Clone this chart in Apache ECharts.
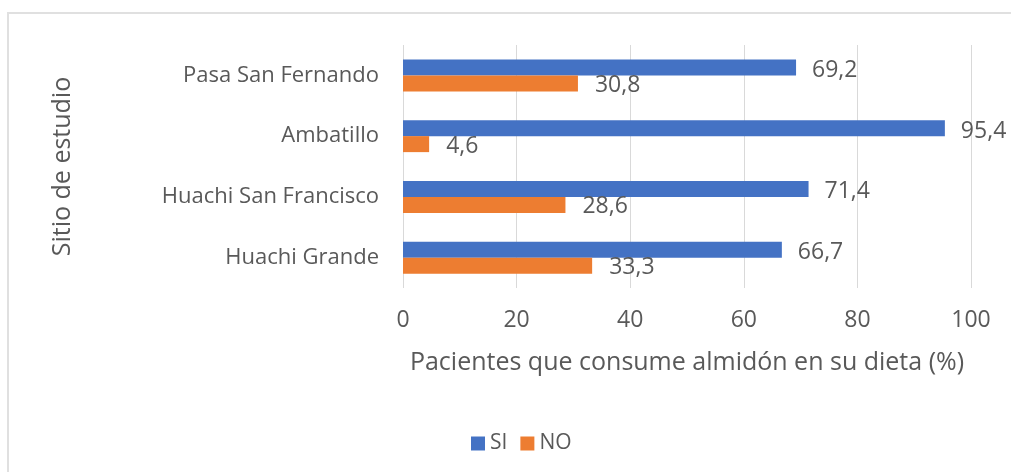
<!DOCTYPE html>
<html>
<head>
<meta charset="utf-8">
<script src="https://cdn.jsdelivr.net/npm/echarts@6/dist/echarts.min.js"></script>
<style>
  html, body { margin: 0; padding: 0; background: #fff; }
  #chart { width: 1011px; height: 472px; }
</style>
</head>
<body>
<div id="chart"></div>
<script>
const categories = ["Pasa San Fernando", "Ambatillo", "Huachi San Francisco", "Huachi Grande"];
const siValues = [69.2, 95.4, 71.4, 66.7];
const noValues = [30.8, 4.6, 28.6, 33.3];
const xTicks = [0, 20, 40, 60, 80, 100];

const textColor = "#595959";
const fontFamily = "'Open Sans', sans-serif";

const chart = echarts.init(document.getElementById("chart"));

const labelFmt = (p) => p.value.toFixed(1).replace(".", ",");

const option = {
  animation: false,
  textStyle: { fontFamily: fontFamily },
  graphic: [
    {
      type: "rect",
      shape: { x: 8, y: 13, width: 1100, height: 500 },
      style: { fill: "none", stroke: "#e0e0e0", lineWidth: 2 },
      silent: true,
    },
  ],
  grid: {
    left: 403,
    right: 40,
    top: 45,
    bottom: 184,
  },
  legend: {
    left: 466,
    top: 428,
    itemWidth: 14,
    itemHeight: 14,
    itemGap: 13,
    icon: "rect",
    textStyle: { color: textColor, fontSize: 21, fontFamily: fontFamily },
    data: ["SI", "NO"],
  },
  xAxis: {
    type: "value",
    min: xTicks[0],
    max: xTicks[xTicks.length - 1],
    interval: 20,
    name: "Pacientes que consume almidón en su dieta (%)",
    nameLocation: "middle",
    nameGap: 62,
    nameTextStyle: { color: textColor, fontSize: 25, fontFamily: fontFamily },
    axisLine: { show: false },
    axisTick: { show: false },
    axisLabel: { color: textColor, fontSize: 23, margin: 21 },
    splitLine: { lineStyle: { color: "#d9d9d9", width: 1 } },
  },
  yAxis: {
    type: "category",
    inverse: true,
    data: categories,
    name: "Sitio de estudio",
    nameLocation: "middle",
    nameGap: 328,
    nameTextStyle: { color: textColor, fontSize: 25, fontFamily: fontFamily },
    axisLine: { show: false },
    axisTick: { show: false },
    axisLabel: { color: textColor, fontSize: 22, margin: 24 },
  },
  series: [
    {
      name: "SI",
      type: "bar",
      data: siValues,
      barWidth: 16,
      barGap: "0%",
      itemStyle: { color: "#4472C4" },
      label: {
        show: true,
        position: "right",
        distance: 16,
        offset: [0, 3],
        color: textColor,
        fontSize: 23,
        formatter: labelFmt,
      },
    },
    {
      name: "NO",
      type: "bar",
      data: noValues,
      barWidth: 16,
      barGap: "0%",
      itemStyle: { color: "#ED7D31" },
      label: {
        show: true,
        position: "right",
        distance: 17,
        offset: [0, 2],
        color: textColor,
        fontSize: 23,
        formatter: labelFmt,
      },
    },
  ],
};

chart.setOption(option);
</script>
</body>
</html>
